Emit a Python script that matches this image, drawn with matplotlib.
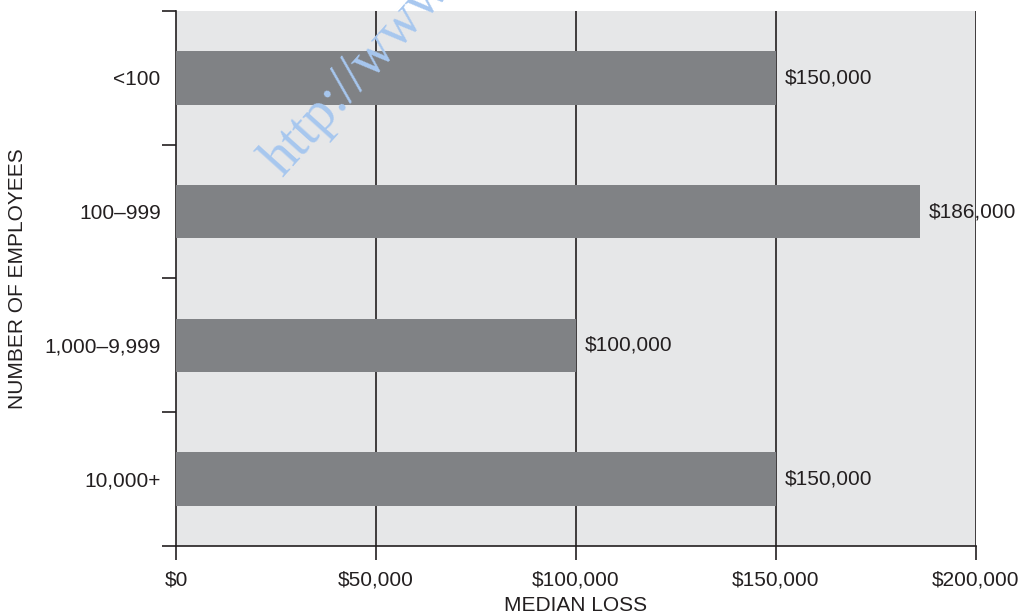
import matplotlib.pyplot as plt
from matplotlib.ticker import FixedLocator

plt.rcParams['font.family'] = ['Liberation Sans', 'DejaVu Sans']

# data
categories = ['<100', '100\u2013999', '1,000\u20139,999', '10,000+']
median_loss = [150000, 186000, 100000, 150000]
value_labels = ['$150,000', '$186,000', '$100,000', '$150,000']
xticks = [0, 50000, 100000, 150000, 200000]
xtick_labels = ['$0', '$50,000', '$100,000', '$150,000', '$200,000']

fs = 15
fig = plt.figure(figsize=(10.22, 6.13), dpi=100)
ax = fig.add_axes([0.1722, 0.1093, 0.7828, 0.873])
ax.set_facecolor('#e6e7e8')

ypos = list(range(len(categories)))
ax.barh(ypos, median_loss, height=0.4, color='#808285', zorder=3)
for y, v, lab in zip(ypos, median_loss, value_labels):
    ax.text(v + 2200, y, lab, va='center', ha='left', fontsize=fs,
            color='#231f20', zorder=4)

ax.set_xlim(0, 200000)
ax.set_ylim(3.5, -0.5)
ax.set_xticks(xticks)
ax.set_xticklabels(xtick_labels, fontsize=fs, color='#231f20')
ax.set_yticks(ypos)
ax.set_yticklabels(categories, fontsize=fs, color='#231f20')
ax.yaxis.set_minor_locator(FixedLocator([-0.5, 0.5, 1.5, 2.5, 3.5]))
ax.tick_params(axis='y', which='major', length=0, pad=11)
ax.tick_params(axis='y', which='minor', length=10, width=1.2, color='#231f20')
ax.tick_params(axis='x', which='major', length=10, width=1.2, color='#231f20', pad=8)

for x in xticks[1:]:
    ax.axvline(x, color='#231f20', lw=1.2, zorder=2)

for s in ['top', 'right']:
    ax.spines[s].set_visible(False)
for s in ['left', 'bottom']:
    ax.spines[s].set_linewidth(1.2)
    ax.spines[s].set_color('#231f20')

ax.set_xlabel('MEDIAN LOSS', fontsize=fs, color='#231f20', labelpad=4)
ax.set_ylabel('NUMBER OF EMPLOYEES', fontsize=fs, color='#231f20')
ax.yaxis.set_label_coords(-0.186, 0.5)

# watermark
fig.text(283 / 1022, 1 - 178 / 613, 'http://www', rotation=48, rotation_mode='anchor',
         ha='left', va='baseline', fontsize=40, family='Liberation Serif',
         color='#a7c7ef', zorder=10)

fig.savefig('out.png', dpi=100)
